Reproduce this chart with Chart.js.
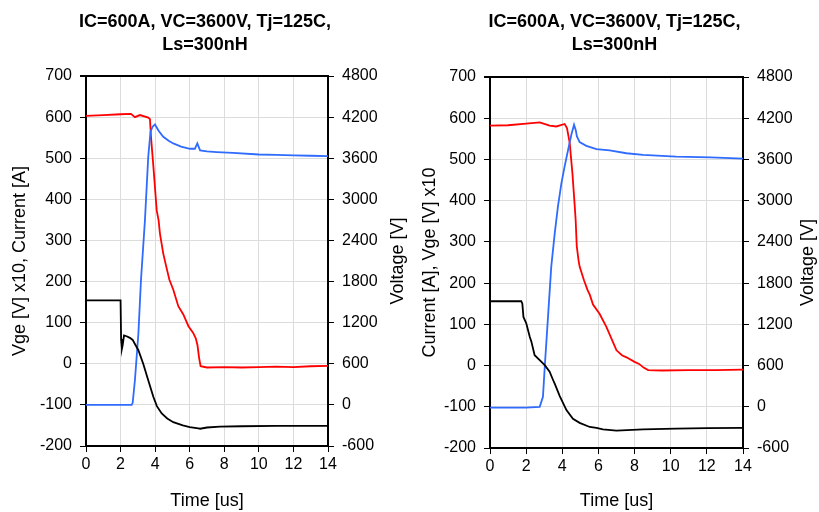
<!DOCTYPE html>
<html>
<head>
<meta charset="utf-8">
<script src="https://cdn.jsdelivr.net/npm/chart.js@4/dist/chart.umd.min.js"></script>
<style>
  body { margin: 0; background: #fff; }
  canvas { position: absolute; top: 0; }
</style>
</head>
<body>
<canvas id="chartA" width="410" height="512" style="left:0"></canvas>
<canvas id="chartB" width="409" height="512" style="left:410px"></canvas>
<script>
// titles / axis labels
const titleLines = ['IC=600A, VC=3600V, Tj=125C,', 'Ls=300nH'];
const leftLabelA = 'Vge [V] x10, Current [A]';
const leftLabelB = 'Current [A], Vge [V] x10';
const rightLabel = 'Voltage [V]';
const timeLabel = 'Time [us]';

// left panel - current [A]
const tCurrA = [0, 1.0, 2.0, 2.6, 2.83, 3.12, 3.6, 3.7, 3.76, 3.9, 4.09, 4.2, 4.28, 4.47, 4.65, 4.82, 5.05, 5.34, 5.63, 5.92, 6.2, 6.35, 6.45, 6.54, 6.63, 7.0, 8, 9, 10, 11, 12, 13, 14];
const currA  = [603, 605, 607, 608, 600, 605, 599, 595, 552, 479, 373, 349, 316, 268, 235, 205, 180, 140, 120, 92, 75, 62, 45, 15, -6, -9, -8, -9, -8, -7, -8, -6, -5];
// left panel - voltage [V]
const tVoltA = [0, 2.64, 2.7, 2.83, 3.03, 3.18, 3.41, 3.6, 3.73, 3.85, 3.99, 4.2, 4.47, 4.8, 5.05, 5.5, 6.01, 6.3, 6.44, 6.6, 7.0, 7.56, 8.5, 10, 11, 12, 13, 14];
const voltA  = [0, 0, 30, 360, 1038, 1818, 2694, 3618, 3984, 4060, 4092, 4000, 3912, 3850, 3816, 3770, 3738, 3738, 3816, 3714, 3700, 3690, 3678, 3654, 3650, 3642, 3636, 3630];
// left panel - Vge x10
const tGateA = [0, 2.0, 2.03, 2.08, 2.12, 2.2, 2.35, 2.54, 2.7, 2.83, 3.03, 3.31, 3.6, 3.9, 4.1, 4.38, 4.7, 5.05, 5.6, 6.0, 6.5, 6.6, 7.0, 7.75, 9, 11, 14];
const gateA  = [154, 154, 60, 37, 45, 69, 67, 63, 58, 48, 33, 0, -40, -81, -103, -121, -133, -142, -150, -154, -157, -158, -155, -153, -152, -151, -151];

// right panel - current [A]
const tCurrB = [0, 1.0, 2.0, 2.75, 3.3, 3.67, 4.13, 4.26, 4.41, 4.56, 4.69, 4.74, 4.8, 4.9, 4.96, 5.2, 5.4, 5.52, 5.7, 6.07, 6.44, 6.81, 7.0, 7.3, 7.55, 8.0, 8.25, 8.5, 8.75, 9.5, 11, 12.5, 14];
const currB  = [582, 583, 587, 590, 582, 580, 586, 576, 540, 467, 386, 353, 290, 255, 240, 207, 183, 172, 148, 125, 94, 56, 37, 25, 20, 9, 4, -5, -11, -12, -11, -11, -10];
// right panel - voltage [V]
const tVoltB = [0, 2.0, 2.75, 2.93, 3.03, 3.21, 3.39, 3.58, 3.76, 3.95, 4.13, 4.32, 4.5, 4.65, 4.75, 4.81, 4.96, 5.33, 5.89, 6.62, 7.55, 8.47, 10.3, 12.2, 14];
const voltB  = [-12, -12, 0, 144, 582, 1308, 2040, 2520, 2916, 3252, 3498, 3738, 3960, 4104, 4020, 3936, 3852, 3798, 3750, 3732, 3690, 3666, 3642, 3630, 3612];
// right panel - Vge x10
const tGateB = [0, 1.73, 1.79, 1.85, 2.01, 2.2, 2.29, 2.47, 2.75, 3.03, 3.3, 3.49, 3.58, 3.86, 4.23, 4.59, 4.96, 5.52, 5.89, 6.25, 7.0, 8.47, 10.3, 12, 14];
const gateB  = [156, 156, 150, 118, 102, 70, 58, 25, 13, 1, -15, -35, -44, -74, -108, -129, -139, -149, -151, -155, -158, -155, -153, -152, -151];

Chart.defaults.font.family = "'Liberation Sans', Arial, sans-serif";
Chart.defaults.color = '#000';

function pts(xs, ys) {
    return xs.map((x, i) => ({ x: x, y: ys[i] }));
}

function line(data, color, axis) {
    return {
        data: data,
        borderColor: color,
        borderWidth: 1.8,
        pointRadius: 0,
        tension: 0,
        yAxisID: axis
    };
}

// right axis title reads bottom-to-top like the left one
const rightTitle = {
    id: 'rightTitle',
    afterDraw(chart, args, opts) {
        const ctx = chart.ctx;
        const a = chart.chartArea;
        ctx.save();
        ctx.translate(opts.x, (a.top + a.bottom) / 2);
        ctx.rotate(-Math.PI / 2);
        ctx.font = "18px 'Liberation Sans', Arial, sans-serif";
        ctx.fillStyle = '#000';
        ctx.textAlign = 'center';
        ctx.textBaseline = 'middle';
        ctx.fillText(rightLabel, 0, 0);
        ctx.restore();
    }
};

function makePanel(id, series, leftLabel, sz) {
    new Chart(document.getElementById(id), {
        type: 'line',
        data: {
            datasets: [
                line(pts(series.tGate, series.gate), '#000000', 'y'),
                line(pts(series.tVolt, series.volt), '#2f6bff', 'y1'),
                line(pts(series.tCurr, series.curr), '#ff0000', 'y')
            ]
        },
        plugins: [rightTitle],
        options: {
            responsive: false,
            animation: false,
            plugins: {
                legend: { display: false },
                tooltip: { enabled: false },
                rightTitle: { x: sz.rightTitleX },
                title: {
                    display: true,
                    text: titleLines,
                    color: '#000',
                    font: { size: 18, weight: 'bold', lineHeight: 1.25 },
                    padding: { top: 11, bottom: sz.titleBottom }
                }
            },
            scales: {
                x: {
                    type: 'linear',
                    min: 0, max: 14,
                    ticks: { stepSize: 2, font: { size: 16 }, color: '#000', padding: 3 },
                    grid: { color: '#dcdcdc', tickColor: '#000', tickLength: 6 },
                    border: { color: '#000', width: 2 },
                    title: { display: true, text: timeLabel, font: { size: 18 }, color: '#000', padding: { top: 0, bottom: 0 } },
                    afterFit: s => { s.height = sz.bottom; }
                },
                y: {
                    position: 'left',
                    min: -200, max: 700,
                    ticks: { stepSize: 100, font: { size: 16 }, color: '#000', padding: 8, callback: v => String(v) },
                    grid: {
                        color: c => (c.tick && c.tick.value === 700 ? '#000' : '#dcdcdc'),
                        lineWidth: c => (c.tick && c.tick.value === 700 ? 2 : 1),
                        tickColor: '#000',
                        tickLength: 6
                    },
                    border: { color: '#000', width: 2 },
                    title: { display: true, text: leftLabel, font: { size: 18 }, color: '#000', padding: { top: 9, bottom: 0 } },
                    afterFit: s => { s.width = sz.left; }
                },
                y1: {
                    position: 'right',
                    min: -600, max: 4800,
                    ticks: { stepSize: 600, font: { size: 16 }, color: '#000', padding: 8, callback: v => String(v) },
                    grid: { drawOnChartArea: false, tickColor: '#000', tickLength: 6 },
                    border: { color: '#000', width: 2 },
                    afterFit: s => { s.width = sz.right; }
                }
            }
        }
    });
}

makePanel('chartA',
    { tCurr: tCurrA, curr: currA, tVolt: tVoltA, volt: voltA, tGate: tGateA, gate: gateA },
    leftLabelA,
    { left: 86, right: 82, bottom: 66, titleBottom: 20, rightTitleX: 398 });

makePanel('chartB',
    { tCurr: tCurrB, curr: currB, tVolt: tVoltB, volt: voltB, tGate: tGateB, gate: gateB },
    leftLabelB,
    { left: 80, right: 76, bottom: 64, titleBottom: 21, rightTitleX: 398 });
</script>
</body>
</html>
